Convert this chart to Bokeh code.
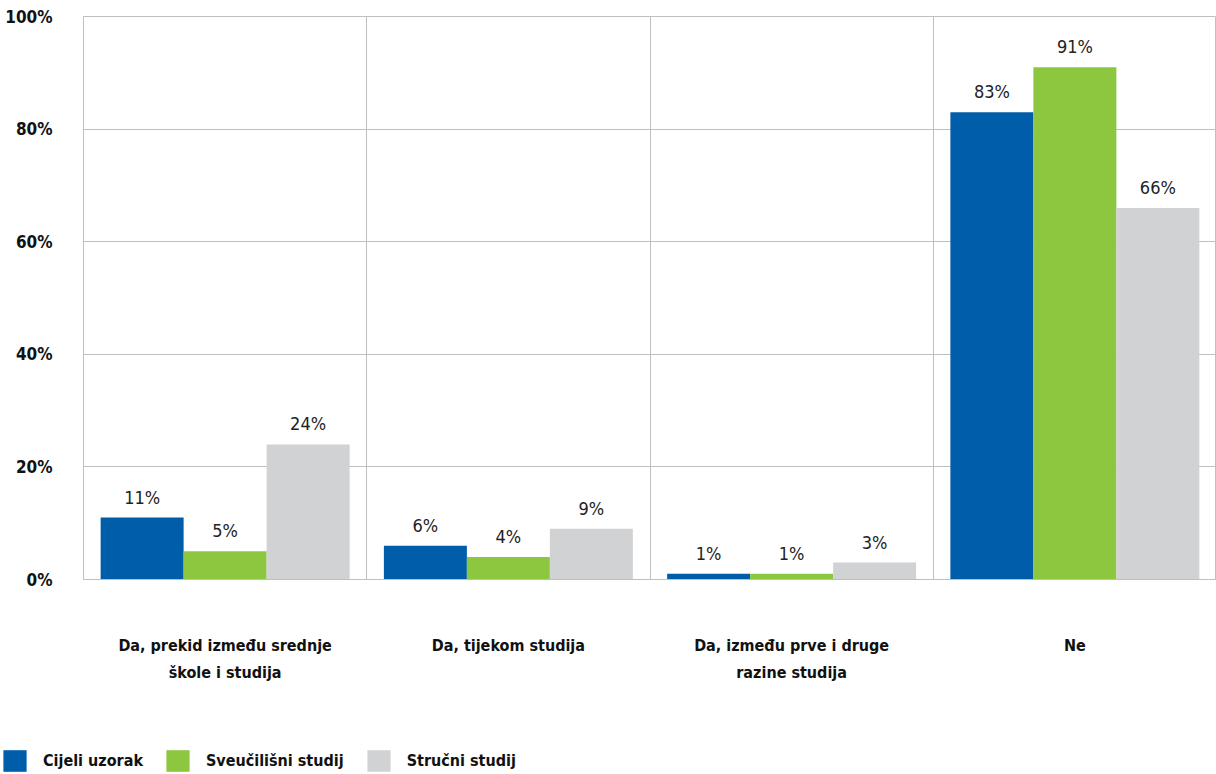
from bokeh.plotting import figure
from bokeh.layouts import column, row
from bokeh.models import ColumnDataSource, FixedTicker, Range1d, Legend, LegendItem
from bokeh.core.properties import value
from bokeh.embed import file_html
from bokeh.resources import INLINE

categories = ["Da, prekid između srednje\nškole i studija", "Da, tijekom studija",
              "Da, između prve i druge\nrazine studija", "Ne"]
series = ["Cijeli uzorak", "Sveučilišni studij", "Stručni studij"]
cijeli = [11, 6, 1, 83]
sveuc = [5, 4, 1, 91]
strucni = [24, 9, 3, 66]
colors = ["#005DA9", "#8DC63F", "#D1D2D4"]
y_ticks = [0, 20, 40, 60, 80, 100]

FONT = "DejaVu Sans Condensed"

p = figure(frame_width=1133, frame_height=563, output_backend="svg", toolbar_location=None,
           x_range=Range1d(0, 4), y_range=Range1d(0, 100),
           min_border_left=83, min_border_right=0, min_border_top=16, min_border_bottom=161)

bw = 0.293
offsets = [-bw, 0, bw]
for vals, off, col in zip([cijeli, sveuc, strucni], offsets, colors):
    xs = [i + 0.5 + off for i in range(4)]
    src = ColumnDataSource(dict(x=xs, top=vals, lab=[f"{v}%" for v in vals]))
    p.vbar(x="x", top="top", width=bw, source=src, color=col, line_color=None)
    p.text(x="x", y="top", text="lab", source=src, text_align="center", text_baseline="bottom",
           y_offset=-10, text_font=value(FONT), text_font_size="18px", text_color="#222222")

p.xaxis.ticker = FixedTicker(ticks=[i + 0.5 for i in range(4)])
p.xaxis.major_label_overrides = {i + 0.5: c for i, c in enumerate(categories)}
p.xaxis.major_tick_line_color = None
p.xaxis.major_tick_out = 0
p.xaxis.major_tick_in = 0
p.xaxis.minor_tick_line_color = None
p.xaxis.axis_line_color = "#bfbfbf"
p.xaxis.major_label_standoff = 56
p.xaxis.major_label_text_font = FONT
p.xaxis.major_label_text_font_size = "16px"
p.xaxis.major_label_text_font_style = "bold"
p.xaxis.major_label_text_line_height = 1.45
p.xaxis.major_label_text_color = "#111111"

p.yaxis.ticker = FixedTicker(ticks=y_ticks)
p.yaxis.major_label_overrides = {t: f"{t}%" for t in y_ticks}
p.yaxis.major_tick_line_color = None
p.yaxis.major_tick_out = 0
p.yaxis.major_tick_in = 0
p.yaxis.minor_tick_line_color = None
p.yaxis.axis_line_color = None
p.yaxis.major_label_standoff = 31
p.yaxis.major_label_text_font = FONT
p.yaxis.major_label_text_font_size = "17px"
p.yaxis.major_label_text_font_style = "bold"
p.yaxis.major_label_text_color = "#111111"

p.xgrid.ticker = FixedTicker(ticks=[0, 1, 2, 3, 4])
p.xgrid.grid_line_color = "#bfbfbf"
p.ygrid.grid_line_color = "#bfbfbf"
p.outline_line_color = "#bfbfbf"

# legend strip (swatch renderers sit outside the visible range)
pl = figure(width=1216, height=34, output_backend="svg", toolbar_location=None,
            x_range=Range1d(0, 1), y_range=Range1d(0, 1),
            x_axis_location=None, y_axis_location=None,
            min_border_left=0, min_border_right=0, min_border_top=0, min_border_bottom=0)
pl.xgrid.visible = False
pl.ygrid.visible = False
pl.outline_line_color = None
items = []
for s, col in zip(series, colors):
    r = pl.vbar(x=[5], top=[1], width=0.1, color=col, line_color=None)
    items.append(LegendItem(label=s, renderers=[r]))
legend = Legend(items=items, orientation="horizontal", location="bottom_left",
                label_text_font=FONT, label_text_font_size="16px", label_text_font_style="bold",
                label_text_color="#111111", glyph_width=29, glyph_height=27,
                spacing=20, label_standoff=14, border_line_color=None, background_fill_alpha=0,
                padding=0, margin=0)
pl.add_layout(legend)

layout = column(p, row(pl), spacing=0)
open("out.html", "w").write(file_html(layout, INLINE))
